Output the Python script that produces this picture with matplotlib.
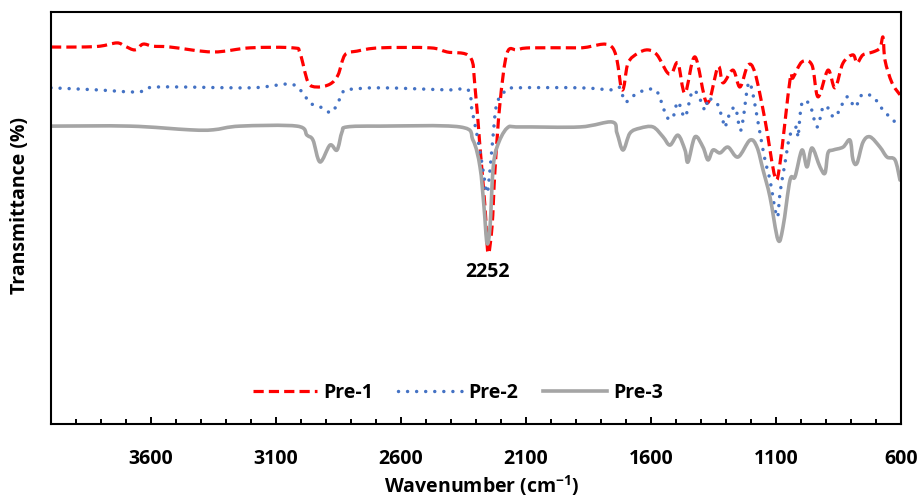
import numpy as np
import matplotlib.pyplot as plt
from matplotlib.path import Path
from matplotlib.patches import PathPatch
from matplotlib.lines import Line2D
from matplotlib.ticker import MultipleLocator, FixedLocator

plt.rcParams['font.family'] = ['Open Sans', 'DejaVu Sans']
plt.rcParams['font.weight'] = 'bold'
plt.rcParams['mathtext.fontset'] = 'custom'
plt.rcParams['mathtext.rm'] = 'Open Sans:bold'
plt.rcParams['mathtext.bf'] = 'Open Sans:bold'

# Pre-1
wn1 = [4000, 3884, 3804, 3736, 3704, 3664, 3632, 3592, 3524, 3352, 3204, 3032, 3004, 2972,
       2936, 2884, 2852, 2824, 2776, 2684, 2484, 2416, 2324, 2304, 2284, 2264, 2252, 2236,
       2224, 2204, 2176, 2136, 2084, 1884, 1756, 1716, 1692, 1652, 1612, 1576, 1536, 1516,
       1492, 1464, 1424, 1376, 1332, 1312, 1272, 1244, 1212, 1184, 1144, 1104, 1084, 1044,
       1032, 996, 956, 932, 892, 864, 832, 792, 776, 752, 712, 684, 672, 664, 636, 604]
t1 = [91.5, 91.5, 91.7, 92.5, 91.7, 90.8, 92.2, 91.7, 91.5, 90.3, 91.3, 91.3, 90.0, 83.0,
      81.8, 82.5, 84.7, 89.6, 90.5, 91.3, 91.3, 90.3, 89.1, 81.8, 67.2, 52.7, 41.5, 47.8,
      61.7, 77.9, 90.0, 90.8, 91.3, 91.3, 91.5, 81.1, 87.6, 90.0, 90.8, 89.6, 85.4, 85.2,
      87.6, 80.3, 89.1, 77.9, 86.7, 82.8, 85.9, 81.8, 87.1, 85.2, 73.8, 60.0, 63.3, 83.5,
      84.0, 87.9, 87.1, 79.4, 85.9, 81.6, 87.6, 89.6, 87.6, 89.6, 90.3, 91.3, 93.9, 88.3,
      82.8, 79.9]

# Pre-2
wn2 = [4000, 3816, 3652, 3576, 3204, 3044, 2992, 2964, 2912, 2876, 2836, 2816, 2684, 2416,
       2332, 2316, 2292, 2272, 2256, 2244, 2232, 2216, 2176, 2136, 1884, 1756, 1724, 1704,
       1672, 1636, 1596, 1572, 1536, 1512, 1492, 1464, 1436, 1412, 1384, 1372, 1356, 1332,
       1304, 1296, 1264, 1244, 1232, 1212, 1196, 1164, 1144, 1124, 1096, 1084, 1064, 1044,
       1016, 1012, 996, 964, 936, 912, 892, 864, 816, 784, 756, 712, 672, 644, 604]
t2 = [81.6, 81.1, 80.6, 81.8, 81.6, 82.5, 80.3, 77.9, 76.7, 75.7, 79.9, 81.1, 81.6, 81.1,
      81.1, 76.2, 68.9, 61.7, 56.1, 61.7, 69.7, 77.9, 81.1, 81.6, 81.6, 81.1, 81.6, 78.2,
      79.6, 80.8, 81.3, 80.3, 74.5, 74.5, 78.2, 74.5, 80.6, 79.9, 76.2, 79.1, 78.6, 77.4,
      72.1, 73.8, 76.9, 71.4, 73.8, 82.3, 81.1, 70.6, 64.1, 59.2, 50.2, 56.1, 63.3, 70.1,
      72.1, 69.7, 77.9, 77.4, 72.1, 76.9, 76.7, 74.5, 79.4, 76.9, 79.9, 79.4, 76.2, 74.5,
      72.1]

# Pre-3
wn3 = [4000, 3684, 3444, 3352, 3244, 3016, 2976, 2952, 2924, 2884, 2856, 2836, 2816, 2684,
       2364, 2312, 2284, 2268, 2256, 2244, 2232, 2216, 2176, 2124, 1884, 1756, 1736, 1712,
       1684, 1644, 1592, 1552, 1524, 1492, 1464, 1452, 1424, 1392, 1372, 1352, 1324, 1292,
       1252, 1204, 1176, 1152, 1124, 1092, 1072, 1044, 1024, 996, 976, 956, 924, 904, 892,
       872, 832, 804, 792, 776, 752, 724, 684, 656, 624, 604]
t3 = [72.3, 72.3, 71.4, 71.4, 72.3, 72.3, 70.1, 68.9, 63.6, 67.7, 66.5, 70.9, 72.1, 72.3,
      72.1, 68.9, 62.4, 52.7, 43.9, 47.8, 61.7, 67.2, 71.8, 72.1, 72.1, 73.3, 70.6, 66.5,
      70.6, 71.8, 72.1, 69.7, 67.7, 70.1, 66.5, 63.6, 69.7, 67.2, 64.1, 66.5, 65.8, 67.2,
      64.8, 68.9, 67.2, 61.7, 55.1, 44.7, 47.8, 59.2, 60.0, 66.5, 62.4, 67.0, 62.4, 60.9,
      65.8, 66.5, 67.2, 68.9, 64.1, 63.3, 68.4, 69.7, 67.2, 64.8, 64.1, 59.2]

peak_wn = 2252
peak_label = '2252'


def smooth_path(x, y):
    # Catmull-Rom spline through the points, written as cubic Bezier segments
    p = np.column_stack([x, y]).astype(float)
    p = np.vstack([p[0], p, p[-1]])
    verts = [p[1]]
    codes = [Path.MOVETO]
    for i in range(1, len(p) - 2):
        c1 = p[i] + (p[i + 1] - p[i - 1]) / 6
        c2 = p[i + 1] - (p[i + 2] - p[i]) / 6
        verts += [c1, c2, p[i + 1]]
        codes += [Path.CURVE4] * 3
    return Path(verts, codes)


fig = plt.figure(figsize=(9.2, 4.99), dpi=100)
ax = fig.add_axes([51/920, 75/499, 850/920, 412/499])

styles = [
    dict(color='#FF0000', lw=2.3, ls=(0, (3.2, 1.6)), cap='butt'),
    dict(color='#4472C4', lw=2.5, ls=(0, (0.01, 2.6)), cap='round'),
    dict(color='#A5A5A5', lw=2.6, ls='-', cap='round'),
]
series = [(wn1, t1, 'Pre-1'), (wn2, t2, 'Pre-2'), (wn3, t3, 'Pre-3')]
handles = []
for (x, y, name), st in zip(series, styles):
    patch = PathPatch(smooth_path(x, y), facecolor='none', edgecolor=st['color'],
                      lw=st['lw'], linestyle=st['ls'], capstyle=st['cap'],
                      joinstyle='round')
    ax.add_patch(patch)
    handles.append(Line2D([], [], color=st['color'], lw=st['lw'], linestyle=st['ls'],
                          dash_capstyle=st['cap'], label=name))

ax.text(peak_wn, 36.9, peak_label, ha='center', va='center', fontsize=14, fontweight='bold')

ax.set_xlim(4000, 600)
ax.set_ylim(0, 100)
ax.xaxis.set_major_locator(FixedLocator(np.arange(3600, 599, -500)))
ax.xaxis.set_minor_locator(MultipleLocator(100))
ax.tick_params(axis='x', which='major', direction='in', length=5, width=1.4, pad=18,
               labelsize=14)
ax.tick_params(axis='x', which='minor', direction='in', length=3.5, width=1.4)
ax.set_yticks([])
for s in ax.spines.values():
    s.set_linewidth(1.5)
    s.set_color('black')

fig.text(482/920, 1 - 486/499, r'Wavenumber (cm$^{-1}$)', ha='center', va='center',
         fontsize=14, fontweight='bold')
fig.text(20/920, 1 - 205/499, 'Transmittance (%)', ha='center', va='center',
         rotation=90, fontsize=14, fontweight='bold')

ax.legend(handles=handles, loc='center', bbox_to_anchor=(458/920, 1 - 393/499),
          bbox_transform=fig.transFigure, ncol=3, frameon=False, fontsize=14,
          handlelength=3.3, handletextpad=0.3, columnspacing=1.3)

fig.savefig('out.png', dpi=100)
